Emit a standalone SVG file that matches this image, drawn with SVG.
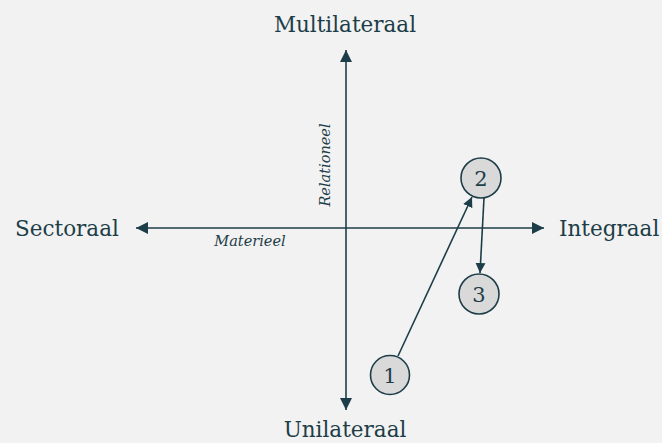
<svg xmlns="http://www.w3.org/2000/svg" width="662" height="443" viewBox="0 0 662 443">
  <defs>
    <marker id="arrow" viewBox="0 0 10 10" refX="10" refY="5" markerWidth="10" markerHeight="10" markerUnits="userSpaceOnUse" orient="auto">
      <path d="M0,0 L10,5 L0,10 z" fill="#1d3e48"/>
    </marker>
    <marker id="arrowBig" viewBox="0 0 12 12" refX="12" refY="6" markerWidth="13" markerHeight="12" markerUnits="userSpaceOnUse" orient="auto">
      <path d="M0,0 L12,6 L0,12 z" fill="#1d3e48"/>
    </marker>
  </defs>
  <style>
    .axis { stroke: #1d3e48; stroke-width: 1.6; fill: none; }
    .edge { stroke: #1d3e48; stroke-width: 1.6; fill: none; }
    .label { font-family: "DejaVu Serif", "Liberation Serif", serif; font-size: 21.5px; fill: #1d3e48; }
    .sub { font-family: "DejaVu Serif", "Liberation Serif", serif; font-size: 14.5px; font-style: italic; fill: #1d3e48; }
    .node circle { fill: #d9d9d9; stroke: #1d3e48; stroke-width: 1.6; }
    .node text { font-family: "DejaVu Serif", "Liberation Serif", serif; font-size: 21px; fill: #1d3e48; text-anchor: middle; }
  </style>
  <rect width="662" height="443" fill="#f2f2f2"/>

  <!-- axes -->
  <g id="axes">
    <line class="axis" x1="346" y1="228" x2="346" y2="50" marker-end="url(#arrowBig)"/>
    <line class="axis" x1="346" y1="228" x2="346" y2="410" marker-end="url(#arrowBig)"/>
    <line class="axis" x1="346" y1="228" x2="136" y2="228" marker-end="url(#arrowBig)"/>
    <line class="axis" x1="346" y1="228" x2="544" y2="228" marker-end="url(#arrowBig)"/>
  </g>

  <!-- axis labels -->
  <g id="axis-labels">
    <text class="label" x="345" y="32" text-anchor="middle">Multilateraal</text>
    <text class="label" x="345" y="437" text-anchor="middle">Unilateraal</text>
    <text class="label" x="15" y="236">Sectoraal</text>
    <text class="label" x="559" y="236">Integraal</text>
    <text class="sub" x="250" y="246" text-anchor="middle">Materieel</text>
    <text class="sub" transform="translate(330,165) rotate(-90)" text-anchor="middle">Relationeel</text>
  </g>

  <!-- connectors -->
  <g id="connectors">
    <line class="edge" x1="398" y1="356" x2="472" y2="197" marker-end="url(#arrow)"/>
    <line class="edge" x1="484" y1="198" x2="480" y2="273" marker-end="url(#arrow)"/>
  </g>

  <!-- nodes -->
  <g id="node-1" class="node">
    <circle cx="390" cy="375" r="19.5"/>
    <text x="390" y="382.5">1</text>
  </g>
  <g id="node-2" class="node">
    <circle cx="481" cy="178" r="20"/>
    <text x="481" y="185.5">2</text>
  </g>
  <g id="node-3" class="node">
    <circle cx="479" cy="294" r="20"/>
    <text x="479" y="301.5">3</text>
  </g>
</svg>
